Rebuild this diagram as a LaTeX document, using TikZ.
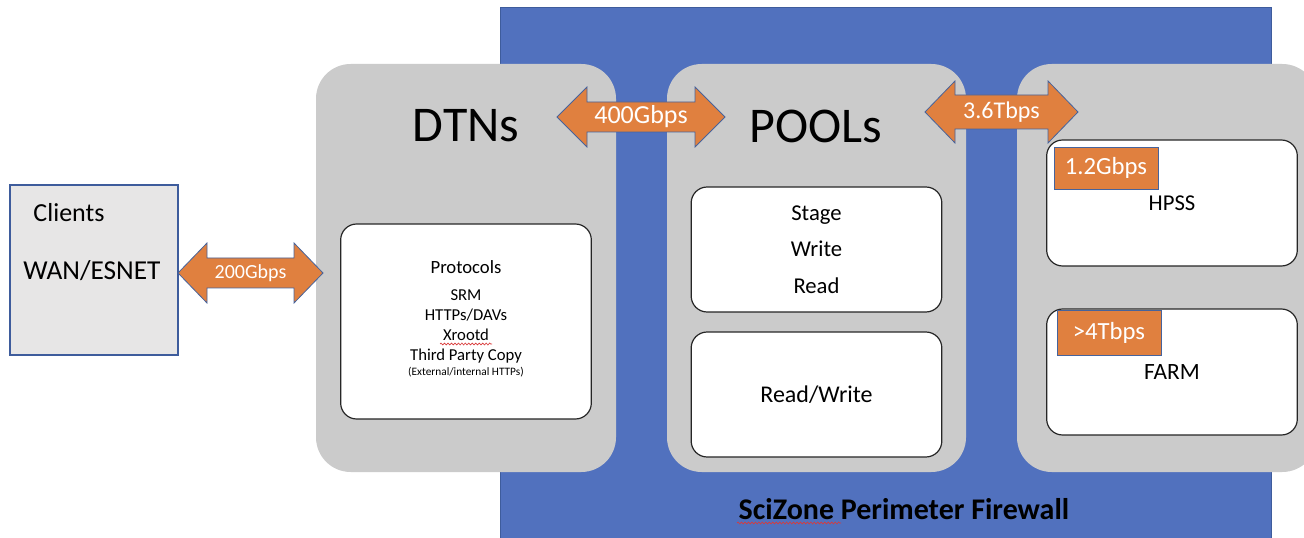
\documentclass[tikz,border=0pt]{standalone}
\usepackage{fontspec}
\setmainfont{Carlito}
\usetikzlibrary{calc,decorations.pathmorphing}
\definecolor{zoneblue}{HTML}{5171BE}
\definecolor{zoneedge}{HTML}{3E5C9C}
\definecolor{panelgrey}{HTML}{CBCBCB}
\definecolor{linkorange}{HTML}{E0803F}
\definecolor{linkedge}{HTML}{46639C}
\definecolor{clientfill}{HTML}{E7E6E6}
\definecolor{squiggle}{HTML}{D93A3A}
\tikzset{
  panel/.style={fill=panelgrey, draw=none, rounded corners=26pt, minimum width=225pt, minimum height=306pt, inner sep=0pt},
  innerbox/.style={fill=white, draw=black!85, line width=0.9pt, rounded corners=12pt, minimum width=188pt, inner sep=0pt, align=center},
  arrowbody/.style={fill=linkorange, draw=linkedge, line width=0.6pt, line join=miter},
  ratetext/.style={text=white, font=\fontsize{15}{17}\selectfont},
  ratebox/.style={fill=linkorange, draw=linkedge, line width=0.6pt, minimum width=78pt, inner sep=0pt, text=white, font=\fontsize{18.5}{20}\selectfont},
  spellmark/.style={draw=squiggle, line width=0.5pt, decorate, decoration={snake, amplitude=0.7pt, segment length=2.6pt}},
}
% double-headed block arrow between two tip coordinates:
% #1 left tip, #2 right tip, #3 head length, #4 shaft half width, #5 head half width
\newcommand{\dblarrow}[5]{%
  \draw[arrowbody] (#1) -- ($(#1)+(#3,-#5)$) -- ($(#1)+(#3,-#4)$) -- ($(#2)+(-#3,-#4)$)
    -- ($(#2)+(-#3,-#5)$) -- (#2) -- ($(#2)+(-#3,#5)$) -- ($(#2)+(-#3,#4)$)
    -- ($(#1)+(#3,#4)$) -- ($(#1)+(#3,#5)$) -- cycle;}
\begin{document}
\begin{tikzpicture}[x=0.75pt,y=-0.75pt]
\useasboundingbox (0,0) rectangle (1304,538);
\clip (0,0) rectangle (1304,538);

% SciZone perimeter
\node[fill=zoneblue, draw=zoneedge, line width=0.6pt, minimum width=578.25pt, minimum height=400pt, inner sep=0pt, anchor=north west] (zone) at (500,7) {};

% grey tiers
\node[panel] (dtn) at (466,268) {};
\node[panel, minimum width=224.25pt] (pools) at (816.5,268) {};
\node[panel] (store) at (1167,268) {};

% clients
\node[fill=clientfill, draw=zoneedge, line width=0.8pt, minimum width=126pt, minimum height=127.5pt, inner sep=0pt] (clients) at (94,270) {};
\node[font=\fontsize{19.5}{21}\selectfont] (clientslbl) at (69,213) {Clients};
\node[font=\fontsize{20.5}{22}\selectfont] (wanlbl) at (92,271) {WAN/ESNET};

% titles
\node[font=\fontsize{37.5}{42}\selectfont] (dtntitle) at (466,126) {DTNs};
\node[font=\fontsize{37.5}{42}\selectfont] (pooltitle) at (816,126) {POOLs};

% DTN protocols
\node[innerbox, minimum height=146.25pt] (proto) at (466,321.5) {};
\node[font=\fontsize{14}{16}\selectfont] (protohead) at (466,267) {Protocols};
\node[font=\fontsize{12.5}{15}\selectfont, align=center, anchor=north] (protolist) at (466,285)
  {SRM\\HTTPs/DAVs\\Xrootd\\Third Party Copy};
\node[font=\fontsize{8.5}{9}\selectfont] (protonote) at (466,372) {(External/internal HTTPs)};
\coordinate (xrl) at (440,344);
\coordinate (xrr) at (492,344);
\draw[spellmark] (xrl) -- (xrr);

% pools
\node[innerbox, minimum height=93.75pt, align=center, font=\fontsize{17}{27.5}\selectfont] (stage) at (816.5,249.5)
  {Stage\\Write\\Read};
\node[innerbox, minimum height=93.75pt, font=\fontsize{18}{20}\selectfont] (rw) at (816.5,394.5) {Read/Write};

% storage
\node[innerbox, minimum height=94.5pt, font=\fontsize{17}{19}\selectfont] (hpss) at (1172,203) {HPSS};
\node[innerbox, minimum height=94.5pt, font=\fontsize{17.5}{19}\selectfont] (farm) at (1172,372) {FARM};
\node[ratebox, minimum height=31.5pt] (hpssrate) at (1106,168) {1.2Gbps};
\node[ratebox, minimum height=33.75pt] (farmrate) at (1109,332.5) {>4Tbps};

% links
\coordinate (l1a) at (178,273);
\coordinate (l1b) at (323,273);
\dblarrow{l1a}{l1b}{29}{15}{30}
\node[ratetext] (r1) at ($(l1a)!0.5!(l1b)$) {200Gbps};

\coordinate (l2a) at (557,117);
\coordinate (l2b) at (725,117);
\dblarrow{l2a}{l2b}{30}{15}{30}
\node[ratetext, font=\fontsize{19.5}{21}\selectfont] (r2) at ($(l2a)!0.5!(l2b)$) {400Gbps};

\coordinate (l3a) at (925,112);
\coordinate (l3b) at (1078,112);
\dblarrow{l3a}{l3b}{30}{17}{31}
\node[ratetext, font=\fontsize{18}{20}\selectfont] (r3) at ($(l3a)!0.5!(l3b)$) {3.6Tbps};

% firewall caption
\node[font=\bfseries\fontsize{22.5}{25}\selectfont] (fw) at (904,509) {SciZone Perimeter Firewall};
\coordinate (szl) at (737,523);
\coordinate (szr) at (841,523);
\draw[spellmark] (szl) -- (szr);
\end{tikzpicture}
\end{document}
